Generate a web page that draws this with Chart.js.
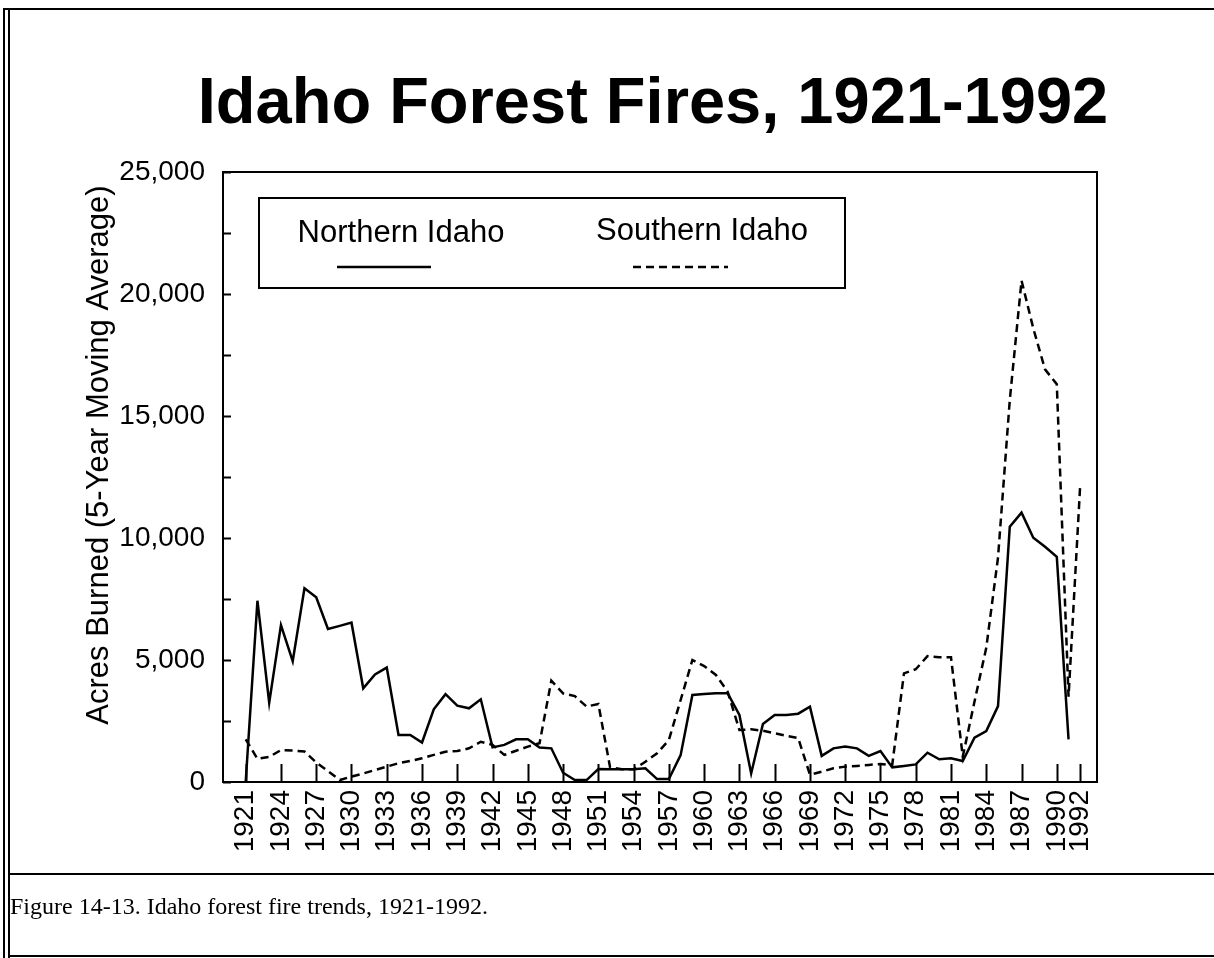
<!DOCTYPE html>
<html>
<head>
<meta charset="utf-8">
<script src="https://cdn.jsdelivr.net/npm/chart.js@4.4.1/dist/chart.umd.min.js"></script>
<style>
  html, body { margin: 0; padding: 0; background: #fff; }
  body { width: 1214px; height: 958px; position: relative; overflow: hidden; }
  #c { position: absolute; left: 0; top: 0; }
  .ln { position: absolute; background: #000; }
  #title {
    position: absolute; left: 0; width: 1306px; top: 68px; margin: 0;
    text-align: center;
    font-family: "Liberation Sans", Arial, Helvetica, sans-serif;
    font-weight: bold; font-size: 65px; line-height: 1; color: #000;
    white-space: nowrap;
  }
  #caption {
    position: absolute; left: 10px; top: 894px; margin: 0;
    font-family: "Liberation Serif", "Times New Roman", serif;
    font-size: 24px; line-height: 1; color: #000; white-space: nowrap;
  }
</style>
</head>
<body>
<canvas id="c" width="1214" height="958"></canvas>
<div class="ln" style="left:3px;top:8px;width:1211px;height:2px;"></div>
<div class="ln" style="left:3px;top:8px;width:2px;height:950px;"></div>
<div class="ln" style="left:8px;top:8px;width:2px;height:950px;"></div>
<div class="ln" style="left:8px;top:873px;width:1206px;height:2px;"></div>
<div class="ln" style="left:8px;top:955px;width:1206px;height:2px;"></div>
<h1 id="title">Idaho Forest Fires, 1921-1992</h1>
<p id="caption">Figure 14-13. Idaho forest fire trends, 1921-1992.</p>
<script>
const years = [1921,1922,1923,1924,1925,1926,1927,1928,1929,1930,
  1931,1932,1933,1934,1935,1936,1937,1938,1939,1940,
  1941,1942,1943,1944,1945,1946,1947,1948,1949,1950,
  1951,1952,1953,1954,1955,1956,1957,1958,1959,1960,
  1961,1962,1963,1964,1965,1966,1967,1968,1969,1970,
  1971,1972,1973,1974,1975,1976,1977,1978,1979,1980,
  1981,1982,1983,1984,1985,1986,1987,1988,1989,1990,
  1991,1992];

const northernIdaho = [0,7430,3250,6430,4950,7940,7570,6270,6400,6530,
  3840,4410,4690,1930,1930,1620,2980,3600,3130,3020,
  3390,1420,1520,1750,1750,1410,1380,380,80,80,
  530,520,520,520,560,120,120,1100,3570,3610,
  3640,3640,2750,350,2380,2750,2750,2800,3090,1070,
  1380,1450,1380,1070,1270,600,660,720,1200,930,
  970,860,1820,2090,3110,10460,11040,10010,9640,9230,
  1750,null];

const southernIdaho = [1750,950,1025,1310,1290,1250,800,450,80,220,
  350,490,630,770,860,970,1110,1240,1270,1380,
  1650,1520,1110,1280,1450,1590,4150,3630,3520,3090,
  3200,600,520,520,830,1180,1720,3360,5000,4750,
  4390,3700,2130,2160,2100,2000,1890,1800,300,420,
  560,630,660,700,740,700,4450,4620,5160,5110,
  5110,1040,3300,5500,9200,15650,20550,18590,16910,16300,
  3500,12250];

const xTickYears = [1921,1924,1927,1930,1933,1936,1939,1942,1945,1948,1951,1954,
  1957,1960,1963,1966,1969,1972,1975,1978,1981,1984,1987,1990,1992];
const yTickValues = [0,2500,5000,7500,10000,12500,15000,17500,20000,22500,25000];
const yLabelValues = [0,5000,10000,15000,20000,25000];

const seriesNames = ['Northern Idaho', 'Southern Idaho'];
const yAxisTitle = 'Acres Burned (5-Year Moving Average)';
const FONT = '"Liberation Sans", Arial, Helvetica, sans-serif';

const toPoints = vals => years.map((y, i) => ({ x: y, y: vals[i] }));

const framePlugin = {
  id: 'frameTicks',
  afterDatasetsDraw(chart) {
    const { ctx, chartArea: a, scales: { x, y } } = chart;
    ctx.save();
    ctx.strokeStyle = '#000';
    ctx.lineWidth = 2;
    ctx.strokeRect(a.left, a.top, a.right - a.left, a.bottom - a.top);
    ctx.beginPath();
    x.ticks.forEach(t => {
      const px = Math.round(x.getPixelForValue(t.value)) + 0.5;
      ctx.moveTo(px, a.bottom);
      ctx.lineTo(px, a.bottom - 18);
    });
    y.ticks.forEach(t => {
      const py = Math.round(y.getPixelForValue(t.value)) + 0.5;
      ctx.moveTo(a.left, py);
      ctx.lineTo(a.left + 8, py);
    });
    ctx.stroke();
    ctx.restore();
  }
};

const yTitlePlugin = {
  id: 'yTitle',
  afterDraw(chart) {
    const { ctx } = chart;
    ctx.save();
    ctx.translate(99, 455);
    ctx.rotate(-Math.PI / 2);
    ctx.font = '31px ' + FONT;
    ctx.fillStyle = '#000';
    ctx.textAlign = 'center';
    ctx.textBaseline = 'middle';
    ctx.fillText(yAxisTitle, 0, 0);
    ctx.restore();
  }
};

const legendPlugin = {
  id: 'boxLegend',
  afterDraw(chart) {
    const { ctx } = chart;
    const box = { left: 259, top: 198, width: 586, height: 90 };
    ctx.save();
    ctx.strokeStyle = '#000';
    ctx.lineWidth = 2;
    ctx.strokeRect(box.left, box.top, box.width, box.height);
    const items = [
      { cx: 401, ty: 242, lineFrom: 337, lineTo: 431 },
      { cx: 702, ty: 240, lineFrom: 633, lineTo: 728 }
    ];
    chart.data.datasets.forEach((ds, i) => {
      const it = items[i];
      ctx.font = '31px ' + FONT;
      ctx.fillStyle = '#000';
      ctx.textAlign = 'center';
      ctx.textBaseline = 'alphabetic';
      ctx.fillText(ds.label, it.cx, it.ty);
      ctx.beginPath();
      ctx.lineWidth = ds.borderWidth;
      ctx.setLineDash(ds.borderDash || []);
      ctx.moveTo(it.lineFrom, 267);
      ctx.lineTo(it.lineTo, 267);
      ctx.stroke();
      ctx.setLineDash([]);
    });
    ctx.restore();
  }
};

new Chart(document.getElementById('c'), {
  type: 'line',
  data: {
    datasets: [
      {
        label: seriesNames[0],
        data: toPoints(northernIdaho),
        borderColor: '#000',
        borderWidth: 2.5,
        pointRadius: 0,
        tension: 0,
        spanGaps: false
      },
      {
        label: seriesNames[1],
        data: toPoints(southernIdaho),
        borderColor: '#000',
        borderWidth: 2.5,
        borderDash: [8, 5],
        pointRadius: 0,
        tension: 0
      }
    ]
  },
  options: {
    responsive: false,
    animation: false,
    devicePixelRatio: 1,
    layout: { padding: { left: 60, top: 172, right: 117, bottom: 76 } },
    plugins: {
      legend: { display: false },
      tooltip: { enabled: false },
      title: { display: false }
    },
    scales: {
      x: {
        type: 'linear',
        min: 1919.07,
        max: 1993.42,
        afterBuildTicks: s => { s.ticks = xTickYears.map(v => ({ value: v })); },
        afterFit: s => { s.height = 100; },
        grid: { display: false, drawTicks: false },
        border: { display: false },
        ticks: {
          autoSkip: false,
          minRotation: 90,
          maxRotation: 90,
          padding: 8,
          color: '#000',
          font: { family: FONT, size: 28 },
          callback: v => String(v)
        }
      },
      y: {
        type: 'linear',
        min: 0,
        max: 25000,
        afterBuildTicks: s => { s.ticks = yTickValues.map(v => ({ value: v })); },
        afterFit: s => { s.width = 163; },
        grid: { display: false, drawTicks: false },
        border: { display: false },
        ticks: {
          padding: 18,
          color: '#000',
          font: { family: FONT, size: 28 },
          callback: v => yLabelValues.includes(v) ? v.toLocaleString('en-US') : ''
        },
        title: { display: false }
      }
    }
  },
  plugins: [framePlugin, yTitlePlugin, legendPlugin]
});
</script>
</body>
</html>
